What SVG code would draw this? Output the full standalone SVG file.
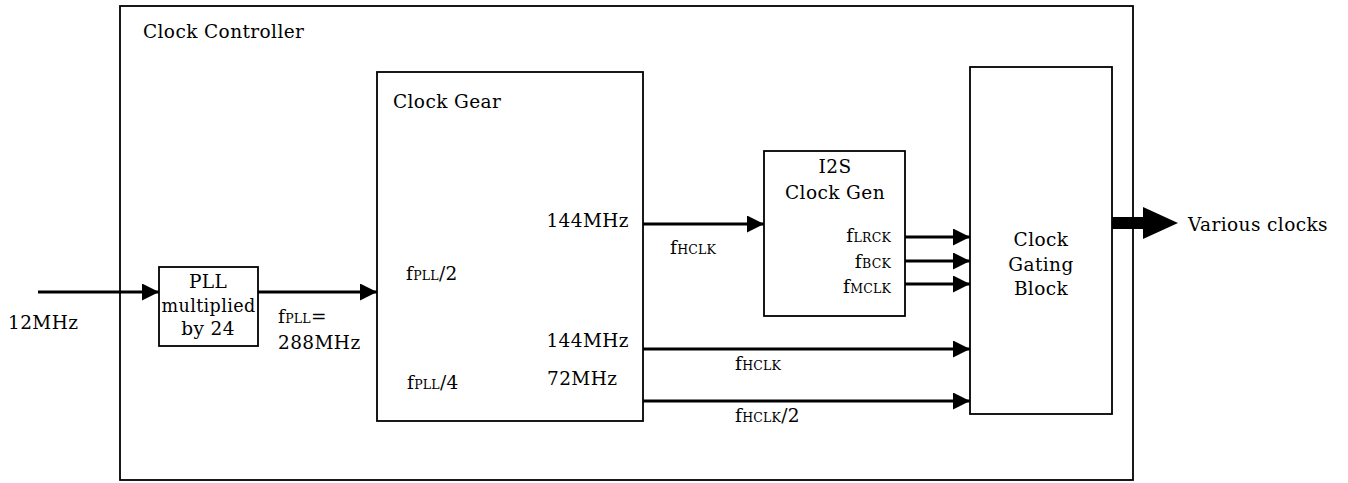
<svg xmlns="http://www.w3.org/2000/svg" width="1348" height="483" viewBox="0 0 1348 483">
<style>
text{font-family:"DejaVu Serif","Liberation Serif",serif;font-size:18.5px;letter-spacing:0.4px;fill:#000}
.s{font-size:12.5px;letter-spacing:0.2px}
.box{fill:#fff;stroke:#000;stroke-width:1.8}
.ln{stroke:#000;stroke-width:3.2;fill:none}
.m{text-anchor:middle}
.e{text-anchor:end}
</style>
<defs>
<marker id="ah" markerUnits="userSpaceOnUse" markerWidth="17" markerHeight="17" refX="17" refY="8.5" orient="auto">
<path d="M0,0 L17,8.5 L0,17 Z" fill="#000"/>
</marker>
</defs>
<g id="controller">
<rect class="box" x="120" y="6" width="1013" height="474"/>
<text x="143" y="38">Clock Controller</text>
</g>
<g id="pll">
<rect class="box" x="159" y="267" width="99" height="79"/>
<text class="m" x="208" y="288">PLL</text>
<text class="m" x="208.5" y="312" textLength="94" lengthAdjust="spacingAndGlyphs">multiplied</text>
<text class="m" x="208" y="335">by 24</text>
</g>
<g id="gear">
<rect class="box" x="377" y="72" width="266" height="349"/>
<text x="393" y="108">Clock Gear</text>
<text x="406" y="280">f<tspan class="s">PLL</tspan>/2</text>
<text x="407" y="389">f<tspan class="s">PLL</tspan>/4</text>
<text class="e" x="629" y="227">144MHz</text>
<text class="e" x="629" y="347">144MHz</text>
<text x="547" y="385">72MHz</text>
</g>
<g id="i2s">
<rect class="box" x="764" y="151" width="141" height="165"/>
<text class="m" x="835" y="173">I2S</text>
<text class="m" x="835" y="199">Clock Gen</text>
<text class="e" x="891" y="242">f<tspan class="s">LRCK</tspan></text>
<text class="e" x="891" y="268">f<tspan class="s">BCK</tspan></text>
<text class="e" x="891" y="293">f<tspan class="s">MCLK</tspan></text>
</g>
<g id="gating">
<rect class="box" x="970" y="67" width="142" height="347"/>
<text class="m" x="1041" y="246">Clock</text>
<text class="m" x="1041" y="271">Gating</text>
<text class="m" x="1041" y="295">Block</text>
</g>
<g id="connectors">
<line class="ln" x1="38" y1="292" x2="159" y2="292" marker-end="url(#ah)"/>
<line class="ln" x1="258" y1="292" x2="377" y2="292" marker-end="url(#ah)"/>
<line class="ln" x1="643" y1="224" x2="764" y2="224" marker-end="url(#ah)"/>
<line class="ln" x1="643" y1="349" x2="970" y2="349" marker-end="url(#ah)"/>
<line class="ln" x1="643" y1="401" x2="970" y2="401" marker-end="url(#ah)"/>
<line class="ln" x1="905" y1="237" x2="970" y2="237" marker-end="url(#ah)"/>
<line class="ln" x1="905" y1="261" x2="970" y2="261" marker-end="url(#ah)"/>
<line class="ln" x1="905" y1="284" x2="970" y2="284" marker-end="url(#ah)"/>
<path d="M1112,217 L1143,217 L1143,207 L1178,223 L1143,239 L1143,229 L1112,229 Z" fill="#000"/>
<text x="278" y="323">f<tspan class="s">PLL</tspan>=</text>
<text x="278" y="349">288MHz</text>
<text x="8" y="329">12MHz</text>
<text x="670" y="254">f<tspan class="s">HCLK</tspan></text>
<text x="735" y="370">f<tspan class="s">HCLK</tspan></text>
<text x="735" y="422">f<tspan class="s">HCLK</tspan>/2</text>
<text x="1188" y="231">Various clocks</text>
</g>
</svg>
